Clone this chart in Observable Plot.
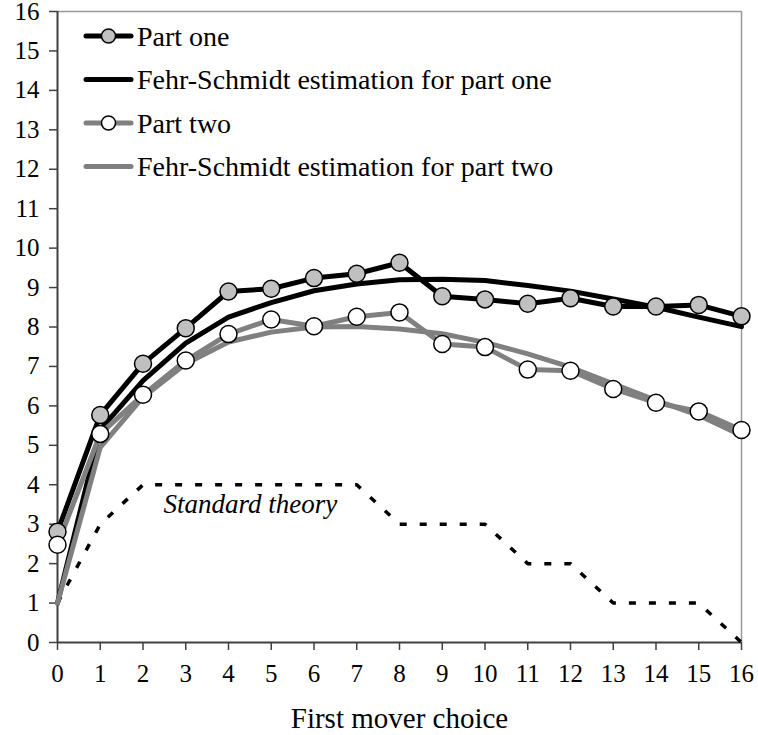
<!DOCTYPE html>
<html>
<head>
<meta charset="utf-8">
<script src="https://cdn.jsdelivr.net/npm/d3@7"></script>
<script src="https://cdn.jsdelivr.net/npm/@observablehq/plot@0.6"></script>
<style>
  html, body { margin: 0; padding: 0; background: #fff; }
  #chart { width: 758px; height: 735px; }
</style>
</head>
<body>
<div id="chart"></div>
<script>
// ---- data ----
const choices = [0, 1, 2, 3, 4, 5, 6, 7, 8, 9, 10, 11, 12, 13, 14, 15, 16];
const partOne = [2.81, 5.77, 7.07, 7.97, 8.90, 8.97, 9.24, 9.35, 9.63, 8.78, 8.70, 8.59, 8.73, 8.52, 8.52, 8.56, 8.27];
const fsPartOne = [1.00, 5.40, 6.64, 7.59, 8.25, 8.62, 8.92, 9.09, 9.20, 9.21, 9.18, 9.05, 8.91, 8.71, 8.50, 8.25, 8.01];
const partTwo = [2.48, 5.29, 6.28, 7.15, 7.82, 8.19, 8.02, 8.26, 8.37, 7.57, 7.49, 6.92, 6.89, 6.43, 6.08, 5.86, 5.39];
const fsPartTwo = [1.00, 4.95, 6.22, 7.07, 7.62, 7.87, 8.00, 8.01, 7.95, 7.83, 7.61, 7.32, 6.98, 6.56, 6.14, 5.76, 5.25];
const standardTheory = [1, 3, 4, 4, 4, 4, 4, 4, 3, 3, 3, 2, 2, 1, 1, 1, 0];
const xTicks = [0, 1, 2, 3, 4, 5, 6, 7, 8, 9, 10, 11, 12, 13, 14, 15, 16];
const yTicks = [0, 1, 2, 3, 4, 5, 6, 7, 8, 9, 10, 11, 12, 13, 14, 15, 16];
const seriesNames = ["Part one", "Fehr-Schmidt estimation for part one", "Part two", "Fehr-Schmidt estimation for part two"];
const xTitle = "First mover choice";
const annotation = [{x: 2.48, y: 3.40, text: "Standard theory"}];

// ---- tables ----
const toRows = (vals) => choices.map((c, i) => ({x: c, y: vals[i]}));
const p1 = toRows(partOne), f1 = toRows(fsPartOne), p2 = toRows(partTwo), f2 = toRows(fsPartTwo), st = toRows(standardTheory);

const FONT = "'Liberation Serif', 'Times New Roman', serif";
const GRAY = "#808080";

const chart = Plot.plot({
  width: 758,
  height: 735,
  marginLeft: 57,
  marginRight: 17,
  marginTop: 11,
  marginBottom: 93,
  style: {fontFamily: FONT, background: "#fff", color: "#000", overflow: "visible"},
  x: {domain: [0, 16]},
  y: {domain: [0, 16]},
  marks: [
    Plot.ruleY([16], {stroke: "#999", strokeWidth: 1.5}),
    Plot.ruleX([16], {stroke: "#999", strokeWidth: 1.5}),
    Plot.axisY({ticks: yTicks, tickSize: 8, tickPadding: 10, fontSize: 25, label: null, stroke: "#404040", strokeWidth: 1.5, tickFormat: d => d}),
    Plot.axisX({ticks: xTicks, tickSize: 8, tickPadding: 14, fontSize: 25, label: null, stroke: "#404040", strokeWidth: 1.5, tickFormat: d => d}),
    Plot.ruleX([0], {stroke: "#404040", strokeWidth: 2}),
    Plot.ruleY([0], {stroke: "#404040", strokeWidth: 2}),
    Plot.line(st, {x: "x", y: "y", stroke: "#000", strokeWidth: 3.5, strokeDasharray: "7,13", strokeLinecap: "butt", strokeLinejoin: "miter"}),
    Plot.line(p1, {x: "x", y: "y", stroke: "#000", strokeWidth: 5}),
    Plot.line(f1, {x: "x", y: "y", stroke: "#000", strokeWidth: 5}),
    Plot.line(p2, {x: "x", y: "y", stroke: GRAY, strokeWidth: 5}),
    Plot.line(f2, {x: "x", y: "y", stroke: GRAY, strokeWidth: 5}),
    Plot.dot(p1, {x: "x", y: "y", r: 8.5, fill: "#c0c0c0", stroke: "#000", strokeWidth: 1.5}),
    Plot.dot(p2, {x: "x", y: "y", r: 8.5, fill: "#fff", stroke: "#000", strokeWidth: 1.5}),
    Plot.text(annotation, {x: "x", y: "y", text: "text", textAnchor: "start", lineAnchor: "bottom", fontSize: 27, fontStyle: "italic", dy: 5}),
    Plot.text([xTitle], {frameAnchor: "bottom", text: d => d, fontSize: 29, lineAnchor: "middle", dy: 76})
  ]
});

// ---- legend inside plot area (top-left) ----
const svg = d3.select(chart);
const legendStyles = [
  {stroke: "#000", dot: "#c0c0c0"},
  {stroke: "#000", dot: null},
  {stroke: GRAY, dot: "#fff"},
  {stroke: GRAY, dot: null}
];
const lg = svg.append("g").attr("font-family", FONT).attr("font-size", 28).attr("text-anchor", "start");
seriesNames.forEach((name, i) => {
  const cy = 36 + i * 43.5;
  const g = lg.append("g").attr("transform", `translate(0,${cy})`);
  g.append("line").attr("x1", 86).attr("x2", 131).attr("y1", 0).attr("y2", 0)
    .attr("stroke", legendStyles[i].stroke).attr("stroke-width", 5).attr("stroke-linecap", "round");
  if (legendStyles[i].dot) {
    g.append("circle").attr("cx", 108.5).attr("cy", 0).attr("r", 7)
      .attr("fill", legendStyles[i].dot).attr("stroke", "#000").attr("stroke-width", 1.5);
  }
  g.append("text").attr("x", 137).attr("y", 0).attr("dy", "0.34em").attr("fill", "#000")
    .attr("text-anchor", "start").text(name);
});

document.getElementById("chart").appendChild(chart);
</script>
</body>
</html>
